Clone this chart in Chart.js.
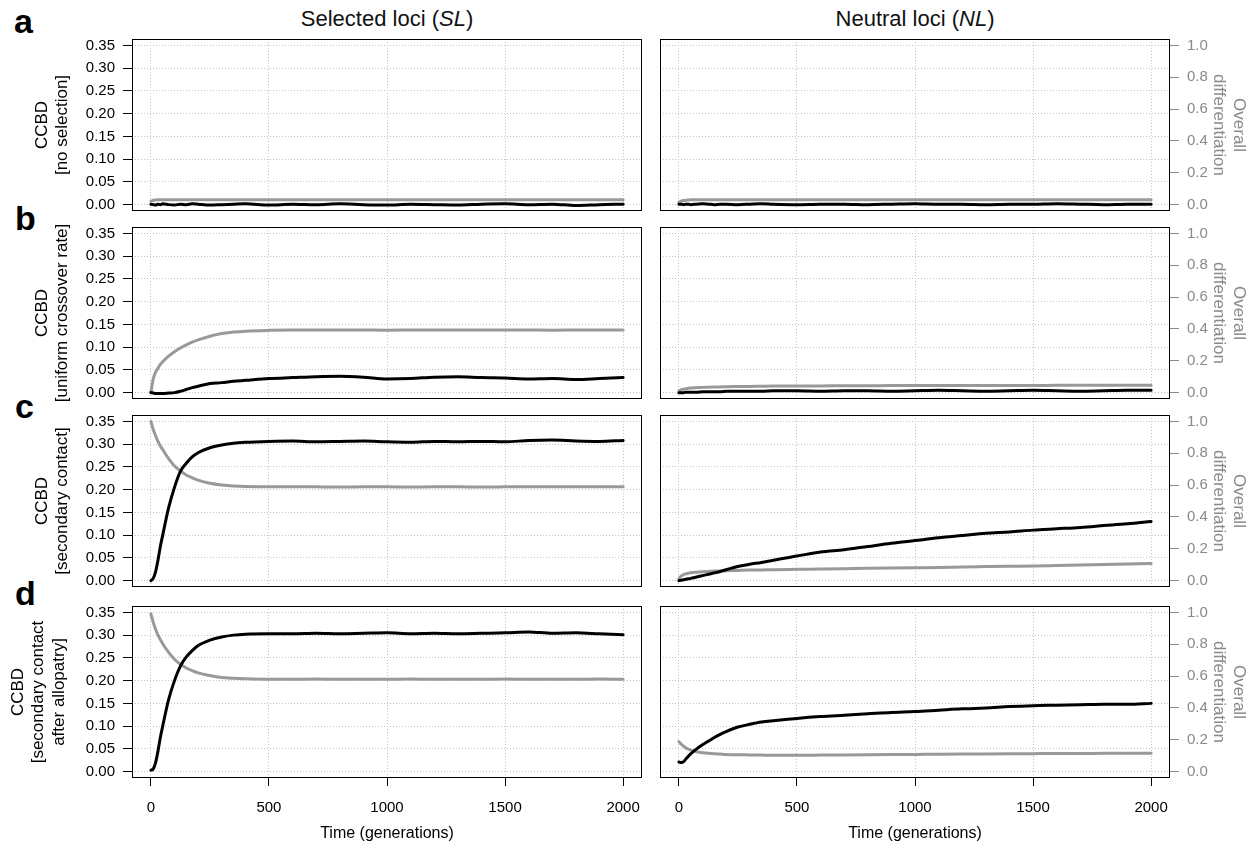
<!DOCTYPE html>
<html lang="en">
<head>
  <meta charset="UTF-8">
  <title>CCBD and overall differentiation over time</title>
  <script src="https://cdn.jsdelivr.net/npm/chart.js"></script>
  <style>
    body {
      margin: 0;
      background: #fff;
      font-family: "Liberation Sans", Arial, Helvetica, sans-serif;
    }
    #fig {
      position: relative;
      width: 1253px;
      height: 850px;
      overflow: hidden;
    }
    #fig canvas {
      position: absolute;
    }
    .colhead {
      position: absolute;
      top: 7px;
      width: 510px;
      text-align: center;
      font-size: 22px;
      line-height: 24px;
      color: #111;
    }
    .letter {
      position: absolute;
      font-weight: bold;
      font-size: 34px;
      line-height: 34px;
      color: #000;
    }
  </style>
</head>
<body>
  <div id="fig">
    <div class="colhead" style="left:132px">Selected loci (<i>SL</i>)</div>
    <div class="colhead" style="left:660px">Neutral loci (<i>NL</i>)</div>
    <div class="letter" style="left:14px; top:4px">a</div>
    <div class="letter" style="left:15px; top:201px">b</div>
    <div class="letter" style="left:15px; top:389px">c</div>
    <div class="letter" style="left:15px; top:576px">d</div>
  </div>

  <script>
    // time axis (generations)
    const generations = [0, 10, 20, 30, 40, 50, 75, 100, 125, 150, 175, 200, 250, 300, 350, 400,
      500, 600, 700, 800, 900, 1000, 1100, 1200, 1300, 1400, 1500, 1600, 1700, 1800, 1900, 2000];

    const xTicks = [0, 500, 1000, 1500, 2000];
    const yTicksCCBD = [0, 0.05, 0.10, 0.15, 0.20, 0.25, 0.30, 0.35];
    const yTicksDiff = [0, 0.2, 0.4, 0.6, 0.8, 1.0];

    const rowLabels = [
      ['CCBD', '[no selection]'],
      ['CCBD', '[uniform crossover rate]'],
      ['CCBD', '[secondary contact]'],
      ['CCBD', '[secondary contact', 'after allopatry]']
    ];

    // a: no selection
    const ccbdA_SL = [0.001, 0.000, -0.001, 0.001, 0.000, 0.002, 0.000, -0.001, 0.001, 0.000, 0.002, 0.001, -0.001, 0.000, 0.001, 0.002,
      -0.001, 0.001, 0.000, 0.002, 0.000, -0.001, 0.001, 0.000, -0.001, 0.001, 0.002, 0.000, 0.001, -0.002, 0.000, 0.001];
    const diffA_SL = [0.022, 0.027, 0.029, 0.030, 0.030, 0.031, 0.030, 0.031, 0.030, 0.031, 0.030, 0.030, 0.031, 0.030, 0.031, 0.030,
      0.030, 0.031, 0.030, 0.031, 0.030, 0.030, 0.031, 0.030, 0.031, 0.030, 0.030, 0.031, 0.030, 0.031, 0.030, 0.030];
    const ccbdA_NL = [0.001, 0.001, 0.000, 0.001, 0.001, 0.000, 0.001, 0.002, 0.001, 0.000, 0.001, 0.001, 0.000, 0.001, 0.002, 0.001,
      0.000, 0.001, 0.001, 0.000, 0.001, 0.002, 0.001, 0.001, 0.000, 0.001, 0.001, 0.002, 0.001, 0.000, 0.001, 0.001];
    const diffA_NL = [0.015, 0.022, 0.026, 0.028, 0.029, 0.030, 0.030, 0.031, 0.030, 0.031, 0.030, 0.031, 0.030, 0.030, 0.031, 0.030,
      0.031, 0.030, 0.031, 0.030, 0.030, 0.031, 0.030, 0.031, 0.030, 0.030, 0.031, 0.030, 0.031, 0.030, 0.031, 0.030];

    // b: uniform crossover rate
    const ccbdB_SL = [0.000, -0.001, -0.002, -0.002, -0.002, -0.002, -0.001, 0.000, 0.003, 0.007, 0.011, 0.014, 0.020, 0.022, 0.025, 0.027,
      0.031, 0.033, 0.035, 0.036, 0.034, 0.030, 0.031, 0.034, 0.035, 0.033, 0.032, 0.030, 0.031, 0.029, 0.031, 0.033];
    const diffB_SL = [0.000, 0.086, 0.129, 0.154, 0.177, 0.194, 0.229, 0.257, 0.280, 0.300, 0.317, 0.331, 0.354, 0.371, 0.380, 0.386,
      0.391, 0.393, 0.393, 0.394, 0.393, 0.392, 0.393, 0.394, 0.394, 0.393, 0.394, 0.393, 0.392, 0.393, 0.394, 0.394];
    const ccbdB_NL = [0.000, 0.000, 0.000, 0.001, 0.001, 0.001, 0.001, 0.002, 0.002, 0.002, 0.002, 0.003, 0.003, 0.003, 0.003, 0.004,
      0.004, 0.003, 0.004, 0.004, 0.003, 0.004, 0.005, 0.004, 0.003, 0.004, 0.005, 0.004, 0.003, 0.004, 0.005, 0.005];
    const diffB_NL = [0.010, 0.018, 0.022, 0.025, 0.027, 0.029, 0.031, 0.033, 0.034, 0.035, 0.036, 0.037, 0.038, 0.039, 0.040, 0.041,
      0.042, 0.042, 0.043, 0.043, 0.044, 0.044, 0.044, 0.045, 0.045, 0.045, 0.045, 0.046, 0.046, 0.046, 0.046, 0.046];

    // c: secondary contact
    const ccbdC_SL = [0.000, 0.005, 0.020, 0.045, 0.075, 0.100, 0.160, 0.205, 0.240, 0.258, 0.272, 0.281, 0.292, 0.298, 0.302, 0.304,
      0.306, 0.307, 0.305, 0.306, 0.307, 0.305, 0.304, 0.306, 0.305, 0.306, 0.305, 0.308, 0.309, 0.307, 0.306, 0.308];
    const diffC_SL = [1.000, 0.949, 0.909, 0.874, 0.846, 0.823, 0.766, 0.720, 0.689, 0.663, 0.646, 0.631, 0.611, 0.600, 0.594, 0.591,
      0.589, 0.590, 0.589, 0.588, 0.589, 0.589, 0.588, 0.589, 0.589, 0.588, 0.589, 0.590, 0.589, 0.589, 0.589, 0.589];
    const ccbdC_NL = [0.000, 0.001, 0.002, 0.003, 0.004, 0.005, 0.008, 0.011, 0.014, 0.017, 0.020, 0.024, 0.031, 0.036, 0.040, 0.045,
      0.054, 0.063, 0.068, 0.075, 0.082, 0.088, 0.094, 0.099, 0.104, 0.107, 0.111, 0.114, 0.117, 0.121, 0.125, 0.130];
    const diffC_NL = [0.012, 0.030, 0.038, 0.043, 0.046, 0.049, 0.053, 0.056, 0.058, 0.060, 0.061, 0.062, 0.064, 0.066, 0.067, 0.069,
      0.071, 0.073, 0.075, 0.077, 0.079, 0.081, 0.083, 0.086, 0.088, 0.090, 0.092, 0.095, 0.098, 0.101, 0.104, 0.107];

    // d: secondary contact after allopatry
    const ccbdD_SL = [0.003, 0.006, 0.020, 0.045, 0.075, 0.100, 0.158, 0.200, 0.232, 0.252, 0.266, 0.277, 0.289, 0.296, 0.300, 0.302,
      0.303, 0.303, 0.304, 0.303, 0.304, 0.305, 0.303, 0.304, 0.303, 0.304, 0.305, 0.307, 0.304, 0.305, 0.303, 0.301];
    const diffD_SL = [0.991, 0.937, 0.894, 0.857, 0.829, 0.803, 0.749, 0.706, 0.674, 0.651, 0.634, 0.620, 0.603, 0.591, 0.586, 0.583,
      0.580, 0.580, 0.581, 0.580, 0.580, 0.580, 0.581, 0.580, 0.580, 0.580, 0.581, 0.580, 0.580, 0.580, 0.581, 0.580];
    const ccbdD_NL = [0.021, 0.020, 0.022, 0.028, 0.034, 0.039, 0.050, 0.059, 0.067, 0.075, 0.082, 0.088, 0.098, 0.104, 0.109, 0.112,
      0.117, 0.121, 0.124, 0.127, 0.130, 0.132, 0.135, 0.138, 0.140, 0.143, 0.145, 0.146, 0.147, 0.148, 0.148, 0.150];
    const diffD_NL = [0.188, 0.172, 0.160, 0.149, 0.141, 0.135, 0.125, 0.119, 0.115, 0.112, 0.110, 0.108, 0.106, 0.105, 0.104, 0.103,
      0.103, 0.104, 0.105, 0.106, 0.107, 0.108, 0.109, 0.110, 0.111, 0.112, 0.113, 0.114, 0.114, 0.115, 0.115, 0.115];

    const panels = [
      { row: 0, col: 0, ccbd: ccbdA_SL, diff: diffA_SL },
      { row: 0, col: 1, ccbd: ccbdA_NL, diff: diffA_NL },
      { row: 1, col: 0, ccbd: ccbdB_SL, diff: diffB_SL },
      { row: 1, col: 1, ccbd: ccbdB_NL, diff: diffB_NL },
      { row: 2, col: 0, ccbd: ccbdC_SL, diff: diffC_SL },
      { row: 2, col: 1, ccbd: ccbdC_NL, diff: diffC_NL },
      { row: 3, col: 0, ccbd: ccbdD_SL, diff: diffD_SL },
      { row: 3, col: 1, ccbd: ccbdD_NL, diff: diffD_NL }
    ];

    // layout (px)
    const FONT = '"Liberation Sans", Arial, Helvetica, sans-serif';
    const BOX_W = 510, BOX_H = 172, PAD_T = 14;
    const ROW_TOP = [39, 227, 415, 606];
    const GRID = '#c4c4c4';
    const GRAY_TXT = '#8a8a8a';
    const GRAY_LINE = '#999999';
    const titlePadLeft = [32, 32, 32, 8];

    Chart.defaults.font.family = FONT;

    // the plot frame (R's box())
    const boxPlugin = {
      id: 'box',
      afterDraw(chart) {
        const a = chart.chartArea;
        const ctx = chart.ctx;
        ctx.save();
        ctx.strokeStyle = '#000';
        ctx.lineWidth = 1;
        ctx.strokeRect(a.left + 0.5, a.top + 0.5, a.width - 1, a.height - 1);
        ctx.restore();
      }
    };

    const fig = document.getElementById('fig');

    function makePanel(p) {
      const isLeft = p.col === 0;
      const isBottom = p.row === 3;
      const xH = isBottom ? 850 - (ROW_TOP[3] + BOX_H) : 4;
      const cvLeft = isLeft ? 0 : 645;
      const cvW = isLeft ? 645 : 608;
      const cvH = PAD_T + BOX_H + xH;

      const cv = document.createElement('canvas');
      cv.width = cvW;
      cv.height = cvH;
      cv.style.left = cvLeft + 'px';
      cv.style.top = (ROW_TOP[p.row] - PAD_T) + 'px';
      cv.style.width = cvW + 'px';
      cv.style.height = cvH + 'px';
      fig.appendChild(cv);

      new Chart(cv, {
        type: 'line',
        data: {
          datasets: [
            {
              label: 'CCBD',
              data: generations.map((g, i) => ({ x: g, y: p.ccbd[i] })),
              yAxisID: 'y',
              borderColor: '#000',
              borderWidth: 3
            },
            {
              label: 'Overall differentiation',
              data: generations.map((g, i) => ({ x: g, y: p.diff[i] })),
              yAxisID: 'y1',
              borderColor: GRAY_LINE,
              borderWidth: 3
            }
          ]
        },
        options: {
          responsive: false,
          animation: false,
          devicePixelRatio: 1,
          layout: { padding: { top: PAD_T, right: isLeft ? 3 : 0, bottom: 0, left: 0 } },
          elements: {
            point: { radius: 0 },
            line: { cubicInterpolationMode: 'monotone', borderCapStyle: 'round', borderJoinStyle: 'round' }
          },
          plugins: { legend: { display: false }, tooltip: { enabled: false } },
          scales: {
            x: {
              type: 'linear',
              min: -80,
              max: 2080,
              afterBuildTicks: s => { s.ticks = xTicks.map(v => ({ value: v })); },
              afterFit: s => { s.height = xH; s.paddingLeft = 0; s.paddingRight = 0; },
              grid: { color: GRID, drawTicks: isBottom, tickLength: 8, tickColor: '#000', tickWidth: 1 },
              border: { display: false, dash: [1, 2] },
              ticks: {
                display: isBottom, color: '#000', font: { size: 15 }, padding: 13,
                maxRotation: 0, autoSkip: false, callback: v => String(v)
              },
              title: {
                display: isBottom, text: 'Time (generations)', color: '#000',
                font: { size: 16 }, padding: { top: 0, bottom: 7 }
              }
            },
            y: {
              type: 'linear',
              position: 'left',
              min: -0.014,
              max: 0.364,
              afterBuildTicks: s => { s.ticks = yTicksCCBD.map(v => ({ value: v })); },
              afterFit: s => { s.width = isLeft ? 132 : 15; s.paddingTop = 0; s.paddingBottom = 0; },
              grid: { color: GRID, drawTicks: isLeft, tickLength: 9, tickColor: '#000', tickWidth: 1 },
              border: { display: false, dash: [1, 2] },
              ticks: { display: isLeft, color: '#000', font: { size: 15 }, padding: 8, callback: v => v.toFixed(2) },
              title: {
                display: isLeft, text: rowLabels[p.row], color: '#000',
                font: { size: 17, lineHeight: 1.2 }, padding: { top: titlePadLeft[p.row], bottom: 0 }
              }
            },
            y1: {
              type: 'linear',
              position: 'right',
              display: !isLeft,
              min: -0.04,
              max: 1.04,
              afterBuildTicks: s => { s.ticks = yTicksDiff.map(v => ({ value: v })); },
              afterFit: s => { s.width = isLeft ? 0 : 83; s.paddingTop = 0; s.paddingBottom = 0; },
              grid: { drawOnChartArea: false, drawTicks: true, tickLength: 9, tickColor: GRAY_TXT, tickWidth: 1 },
              border: { display: false },
              ticks: { color: GRAY_TXT, font: { size: 15 }, padding: 8, callback: v => v.toFixed(1) },
              title: {
                display: true, text: ['Overall', 'differentiation'], color: GRAY_TXT,
                font: { size: 17, lineHeight: 1.2 }, padding: { top: 4, bottom: 0 }
              }
            }
          }
        },
        plugins: [boxPlugin]
      });
    }

    panels.forEach(makePanel);
  </script>
</body>
</html>
